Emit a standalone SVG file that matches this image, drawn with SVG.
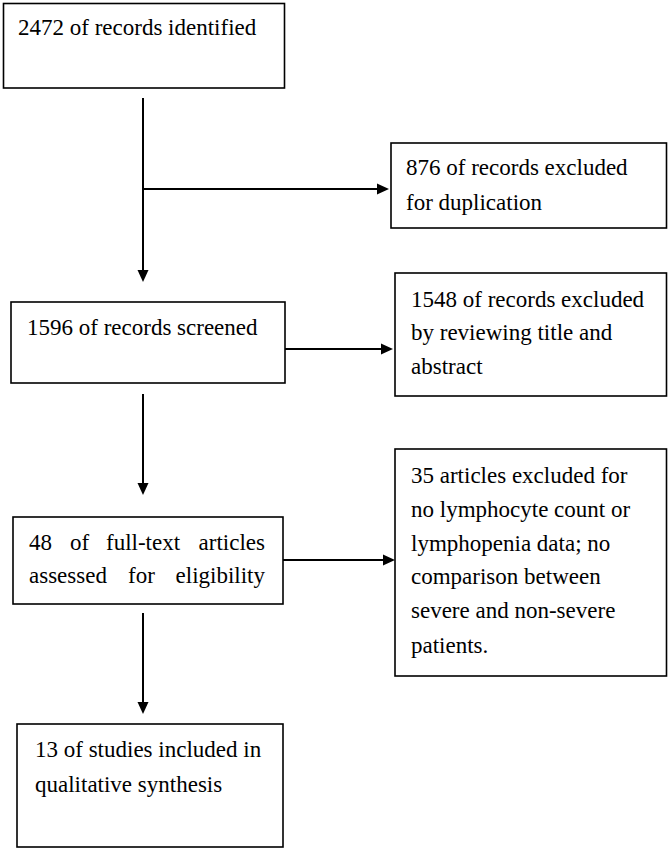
<svg xmlns="http://www.w3.org/2000/svg" width="670" height="850" viewBox="0 0 670 850">
  <style>
    .box { fill: #ffffff; stroke: #000000; stroke-width: 1.6; }
    .conn { stroke: #000000; stroke-width: 2; fill: none; }
    text { font-family: "Liberation Serif", "DejaVu Serif", "Times New Roman", Times, serif; font-size: 23px; fill: #000000; }
  </style>
  <defs>
    <marker id="arr" markerUnits="userSpaceOnUse" markerWidth="12" markerHeight="12" refX="2" refY="6" orient="auto">
      <path d="M0,0.5 L12,6 L0,11.5 z" fill="#000000"/>
    </marker>
  </defs>
  <rect width="670" height="850" fill="#ffffff"/>

  <g id="connectors">
    <line class="conn" x1="143" y1="98" x2="143" y2="272" marker-end="url(#arr)"/>
    <line class="conn" x1="143" y1="189" x2="379" y2="189" marker-end="url(#arr)"/>
    <line class="conn" x1="285" y1="349" x2="383" y2="349" marker-end="url(#arr)"/>
    <line class="conn" x1="143" y1="394" x2="143" y2="485" marker-end="url(#arr)"/>
    <line class="conn" x1="283" y1="560" x2="385" y2="560" marker-end="url(#arr)"/>
    <line class="conn" x1="143" y1="613" x2="143" y2="704" marker-end="url(#arr)"/>
  </g>

  <g id="identified">
    <rect class="box" x="3.5" y="3.5" width="281" height="84.5"/>
    <text font-family="Liberation Serif" x="18" y="35">2472 of records identified</text>
  </g>

  <g id="excluded-duplication">
    <rect class="box" x="391" y="143" width="275.5" height="85"/>
    <text font-family="Liberation Serif" x="406" y="175">876 of records excluded</text>
    <text font-family="Liberation Serif" x="406" y="210">for duplication</text>
  </g>

  <g id="screened">
    <rect class="box" x="11" y="302" width="274" height="81"/>
    <text font-family="Liberation Serif" x="27" y="335">1596 of records screened</text>
  </g>

  <g id="excluded-title-abstract">
    <rect class="box" x="395" y="273" width="271.5" height="123"/>
    <text font-family="Liberation Serif" x="411" y="307">1548 of records excluded</text>
    <text font-family="Liberation Serif" x="411" y="340">by reviewing title and</text>
    <text font-family="Liberation Serif" x="411" y="374">abstract</text>
  </g>

  <g id="full-text">
    <rect class="box" x="13" y="517" width="270" height="87"/>
    <text font-family="Liberation Serif" y="550"><tspan x="29">48</tspan><tspan x="70">of</tspan><tspan x="106">full-text</tspan><tspan x="265" text-anchor="end">articles</tspan></text>
    <text font-family="Liberation Serif" y="583"><tspan x="29">assessed</tspan><tspan x="128">for</tspan><tspan x="265" text-anchor="end">eligibility</tspan></text>
  </g>

  <g id="excluded-articles">
    <rect class="box" x="395" y="449" width="271.5" height="227"/>
    <text font-family="Liberation Serif" x="411" y="483">35 articles excluded for</text>
    <text font-family="Liberation Serif" x="411" y="517">no lymphocyte count or</text>
    <text font-family="Liberation Serif" x="411" y="551">lymphopenia data; no</text>
    <text font-family="Liberation Serif" x="411" y="584">comparison between</text>
    <text font-family="Liberation Serif" x="411" y="618">severe and non-severe</text>
    <text font-family="Liberation Serif" x="411" y="653">patients.</text>
  </g>

  <g id="included">
    <rect class="box" x="17" y="724" width="266" height="123"/>
    <text font-family="Liberation Serif" x="35" y="757">13 of studies included in</text>
    <text font-family="Liberation Serif" x="35" y="792">qualitative synthesis</text>
  </g>
</svg>
